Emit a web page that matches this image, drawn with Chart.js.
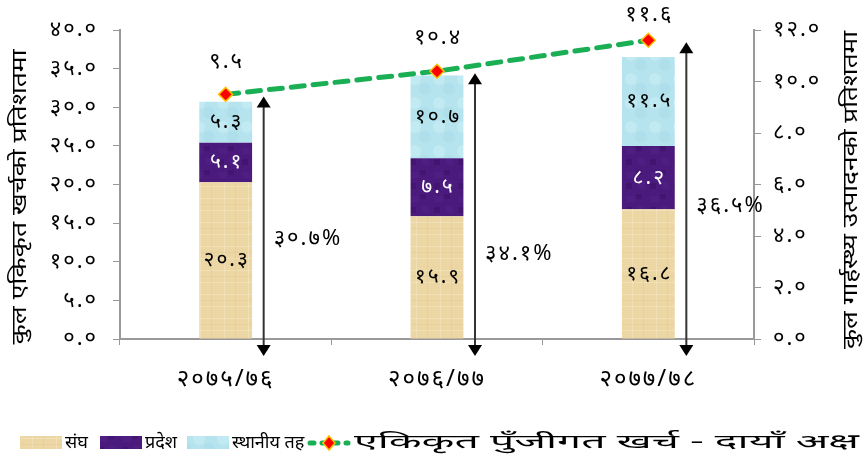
<!DOCTYPE html>
<html>
<head>
<meta charset="utf-8">
<script src="https://cdn.jsdelivr.net/npm/chart.js@4"></script>
<style>
  html, body { margin: 0; padding: 0; background: #fff; }
  #wrap { width: 865px; height: 457px; }
</style>
</head>
<body>
<div id="wrap"><canvas id="myChart"></canvas></div>
<script>
// data
const years = ['2075/76', '2076/77', '2077/78'];
const sangh = [20.3, 15.9, 16.8];
const pradesh = [5.1, 7.5, 8.2];
const sthaniya = [5.3, 10.7, 11.5];
const capitalShare = [9.5, 10.4, 11.6];   // right axis, % of GDP
const totalShare = [30.7, 34.1, 36.5];    // arrow labels, % of total

const seriesNames = ['संघ', 'प्रदेश', 'स्थानीय तह', 'एकिकृत पुँजीगत खर्च - दायाँ अक्ष'];
const leftTitle = 'कुल एकिकृत खर्चको प्रतिशतमा';
const rightTitle = 'कुल गार्हस्थ्य उत्पादनको प्रतिशतमा';

const FONT = '"Noto Sans", "Noto Sans Devanagari", sans-serif';
const dev = s => String(s).replace(/[0-9]/g, d => '०१२३४५६७८९'[d]);

// little textures so the bars don't look flat
function makePattern(base, draw) {
  const c = document.createElement('canvas');
  c.width = 24; c.height = 24;
  const g = c.getContext('2d');
  g.fillStyle = base;
  g.fillRect(0, 0, 24, 24);
  draw(g);
  return g.createPattern(c, 'repeat');
}
const tan = makePattern('#ebd6a4', g => {
  g.strokeStyle = 'rgba(255,248,225,0.3)';
  g.beginPath(); g.moveTo(0, 6.5); g.lineTo(24, 6.5); g.moveTo(0, 18.5); g.lineTo(24, 18.5);
  g.moveTo(8.5, 0); g.lineTo(8.5, 24); g.stroke();
  g.strokeStyle = 'rgba(200,170,110,0.12)';
  g.beginPath(); g.moveTo(0, 12.5); g.lineTo(24, 12.5); g.moveTo(19.5, 0); g.lineTo(19.5, 24); g.stroke();
});
const purple = makePattern('#4a1b7c', g => {
  g.fillStyle = 'rgba(90,40,150,0.3)';
  g.fillRect(3, 4, 8, 6); g.fillRect(14, 14, 7, 7);
  g.fillStyle = 'rgba(50,10,90,0.3)';
  g.fillRect(12, 2, 6, 5); g.fillRect(2, 15, 6, 6);
});
const blue = makePattern('#b5e4ee', g => {
  g.fillStyle = 'rgba(225,248,252,0.3)';
  g.beginPath(); g.arc(7, 7, 6, 0, Math.PI * 2); g.fill();
  g.fillStyle = 'rgba(150,205,218,0.2)';
  g.beginPath(); g.arc(17, 17, 6, 0, Math.PI * 2); g.fill();
});

// draw text squeezed / stretched to a given width
function fitText(ctx, text, x, y, w) {
  const m = ctx.measureText(text).width;
  ctx.save();
  ctx.translate(x, y);
  ctx.scale(w / m, 1);
  ctx.fillText(text, 0, 0);
  ctx.restore();
}

const labelsPlugin = {
  id: 'labels',
  beforeDraw(chart) {
    chart.ctx.letterSpacing = '2px';
  },
  afterDatasetsDraw(chart) {
    const ctx = chart.ctx;
    const x = chart.scales.x, y = chart.scales.y, y1 = chart.scales.y1;
    ctx.save();
    ctx.letterSpacing = '2px';
    ctx.textAlign = 'center';
    ctx.textBaseline = 'middle';
    ctx.font = '21px ' + FONT;
    // numbers inside the bar segments
    [0, 1, 2].forEach(di => {
      const meta = chart.getDatasetMeta(di);
      meta.data.forEach((bar, i) => {
        const v = chart.data.datasets[di].data[i];
        ctx.fillStyle = di === 1 ? '#fff' : '#000';
        ctx.fillText(dev(v.toFixed(1)), bar.x + 1, (bar.y + bar.base) / 2);
      });
    });
    // numbers above the line points
    ctx.font = '22px ' + FONT;
    chart.getDatasetMeta(3).data.forEach((pt, i) => {
      ctx.fillStyle = '#000';
      ctx.fillText(dev(capitalShare[i].toFixed(1)), pt.x + 1, Math.max(15, pt.y - 33));
    });
    // double arrows with the total share
    const pctAt = [13.0, 11.1, 17.2];
    years.forEach((_, i) => {
      const ax = x.getPixelForValue(i) + 38;
      const top = y1.getPixelForValue(capitalShare[i]) + 2;
      const bot = y.getPixelForValue(0) + 17;
      ctx.strokeStyle = '#333';
      ctx.lineWidth = 2;
      ctx.beginPath(); ctx.moveTo(ax, top + 10); ctx.lineTo(ax, bot - 10); ctx.stroke();
      ctx.fillStyle = '#000';
      ctx.beginPath(); ctx.moveTo(ax, top); ctx.lineTo(ax - 7, top + 11); ctx.lineTo(ax + 7, top + 11); ctx.closePath(); ctx.fill();
      ctx.beginPath(); ctx.moveTo(ax, bot); ctx.lineTo(ax - 7, bot - 11); ctx.lineTo(ax + 7, bot - 11); ctx.closePath(); ctx.fill();
      ctx.textAlign = 'left';
      ctx.fillText(dev(totalShare[i].toFixed(1)) + '%', ax + 10, y.getPixelForValue(pctAt[i]));
    });
    ctx.restore();
  },
  afterDraw(chart) {
    const ctx = chart.ctx;
    ctx.save();
    ctx.letterSpacing = '0px';
    ctx.fillStyle = '#000';
    ctx.textAlign = 'center';
    ctx.textBaseline = 'middle';
    ctx.font = '20px ' + FONT;
    // axis titles, both read bottom to top
    ctx.save();
    ctx.translate(20, 197); ctx.rotate(-Math.PI / 2);
    fitText(ctx, leftTitle, 0, 0, 295);
    ctx.restore();
    ctx.save();
    ctx.translate(851, 190); ctx.rotate(-Math.PI / 2);
    fitText(ctx, rightTitle, 0, 0, 318);
    ctx.restore();
    // legend along the bottom
    const ly = 443;
    ctx.textAlign = 'left';
    ctx.font = '18px ' + FONT;
    const fills = [tan, purple, blue];
    const xs = [20, 100, 187];
    fills.forEach((f, i) => {
      ctx.fillStyle = f;
      ctx.fillRect(xs[i], ly - 7, 42, 13);
      ctx.fillStyle = '#000';
      ctx.fillText(seriesNames[i], xs[i] + 45, ly);
    });
    ctx.strokeStyle = '#1aaf54';
    ctx.lineWidth = 5;
    ctx.lineCap = 'round';
    ctx.setLineDash([4, 8]);
    ctx.beginPath(); ctx.moveTo(310, ly); ctx.lineTo(348, ly); ctx.stroke();
    ctx.setLineDash([]);
    ctx.fillStyle = '#ff0000';
    ctx.strokeStyle = '#ffc000';
    ctx.lineWidth = 1.5;
    ctx.beginPath(); ctx.moveTo(329, ly - 7); ctx.lineTo(335, ly); ctx.lineTo(329, ly + 7); ctx.lineTo(323, ly); ctx.closePath();
    ctx.fill(); ctx.stroke();
    ctx.fillStyle = '#000';
    ctx.font = '19px ' + FONT;
    fitText(ctx, seriesNames[3], 354, ly, 505);
    ctx.restore();
  }
};

const ctx = document.getElementById('myChart');

new Chart(ctx, {
  data: {
    labels: years,
    datasets: [
      { type: 'bar', label: seriesNames[0], data: sangh, backgroundColor: tan, yAxisID: 'y', order: 2 },
      { type: 'bar', label: seriesNames[1], data: pradesh, backgroundColor: purple, yAxisID: 'y', order: 2 },
      { type: 'bar', label: seriesNames[2], data: sthaniya, backgroundColor: blue, yAxisID: 'y', order: 2 },
      {
        type: 'line', label: seriesNames[3], data: capitalShare, yAxisID: 'y1', order: 1,
        borderColor: '#1aaf54', borderWidth: 5, borderDash: [13, 9], borderCapStyle: 'round',
        pointStyle: 'rectRot', pointRadius: 7, pointBackgroundColor: '#ff0000',
        pointBorderColor: '#ffc000', pointBorderWidth: 1.5, tension: 0
      }
    ]
  },
  options: {
    responsive: true,
    maintainAspectRatio: false,
    animation: false,
    layout: { padding: { top: 30, left: 0, right: 0, bottom: 0 } },
    datasets: { bar: { barPercentage: 0.25, categoryPercentage: 1 } },
    plugins: { legend: { display: false }, tooltip: { enabled: false } },
    scales: {
      x: {
        stacked: true,
        afterFit(s) { s.height = 118; },
        grid: { drawOnChartArea: false, drawTicks: true, tickLength: 6, color: '#999' },
        border: { color: '#999', width: 2 },
        ticks: {
          padding: 20, color: '#000', font: { family: FONT, size: 24 },
          callback(v) { return dev(this.getLabelForValue(v)); }
        }
      },
      y: {
        stacked: true, position: 'left', min: 0, max: 40,
        afterFit(s) { s.width = 120; },
        grid: { drawOnChartArea: false, drawTicks: true, tickLength: 7, color: '#999' },
        border: { color: '#999', width: 2 },
        ticks: {
          stepSize: 5, padding: 15, color: '#000', font: { family: FONT, size: 22 },
          callback: v => dev(v.toFixed(1))
        }
      },
      y1: {
        position: 'right', min: 0, max: 12,
        afterFit(s) { s.width = 111; },
        grid: { drawOnChartArea: false, drawTicks: true, tickLength: 7, color: '#999' },
        border: { color: '#999', width: 2 },
        ticks: {
          stepSize: 2, padding: 12, color: '#000', font: { family: FONT, size: 22 },
          callback: v => dev(v.toFixed(1))
        }
      }
    }
  },
  plugins: [labelsPlugin]
});
</script>
</body>
</html>
